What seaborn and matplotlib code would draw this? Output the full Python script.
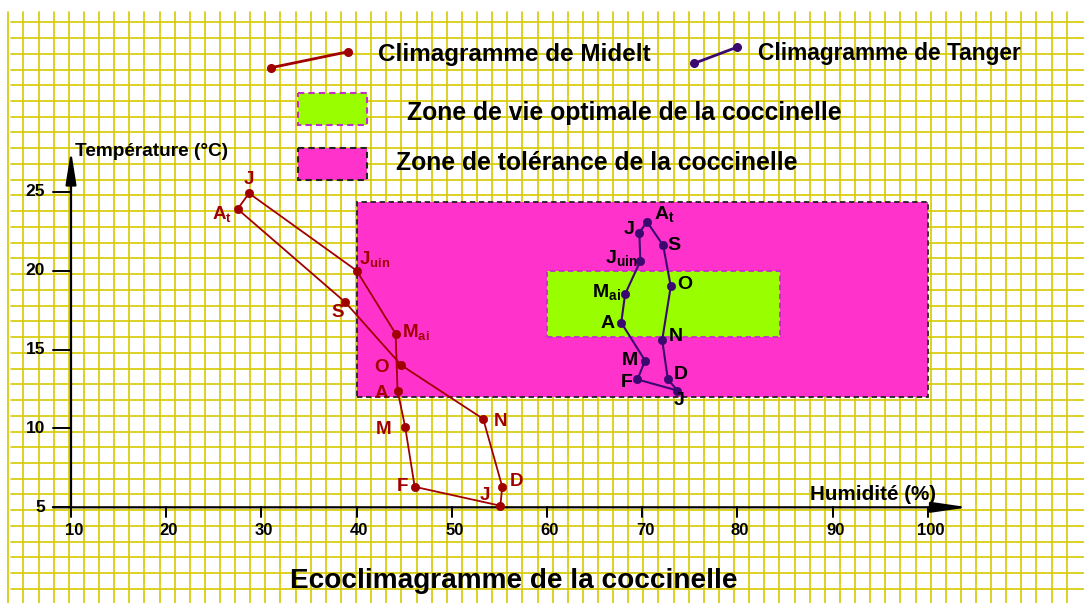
import matplotlib
matplotlib.use('Agg')
import matplotlib.pyplot as plt
import seaborn as sns
import pandas as pd
import numpy as np
from matplotlib.patches import Rectangle

sns.set_theme(style='white')
plt.rcParams['font.family'] = ['Liberation Sans', 'DejaVu Sans']
plt.rcParams['font.weight'] = 'bold'
plt.rcParams['text.color'] = 'black'
plt.rcParams['mathtext.fontset'] = 'custom'
plt.rcParams['mathtext.rm'] = 'Liberation Sans:bold'
plt.rcParams['mathtext.bf'] = 'Liberation Sans:bold'
plt.rcParams['mathtext.it'] = 'Liberation Sans:bold'

# ---------------- data ----------------
months = ['Jan', 'Fev', 'Mar', 'Avr', 'Mai', 'Juin', 'Juil', 'Aout', 'Sep', 'Oct', 'Nov', 'Dec']
month_labels = ['J', 'F', 'M', 'A', r'$\mathrm{M}_{\mathrm{ai}}$', r'$\mathrm{J}_{\mathrm{uin}}$',
                'J', r'$\mathrm{A}_{\mathrm{t}}$', 'S', 'O', 'N', 'D']
midelt_hum = [55.1, 46.1, 45.1, 44.3, 44.1, 40.0, 28.7, 27.5, 38.8, 44.7, 53.3, 55.3]
midelt_temp = [5.1, 6.3, 10.1, 12.4, 16.0, 20.0, 24.9, 23.9, 18.0, 14.0, 10.6, 6.3]
tanger_hum = [73.7, 69.5, 70.3, 67.8, 68.2, 69.8, 69.7, 70.5, 72.2, 73.0, 72.1, 72.7]
tanger_temp = [12.4, 13.1, 14.3, 16.7, 18.5, 20.6, 22.4, 23.1, 21.6, 19.0, 15.6, 13.1]

tolerance_hum = [40, 100]
tolerance_temp = [12, 24.35]
optimal_hum = [60, 84.5]
optimal_temp = [15.8, 20]

x_ticks = [10, 20, 30, 40, 50, 60, 70, 80, 90, 100]
y_ticks = [5, 10, 15, 20, 25]

title = 'Ecoclimagramme de la coccinelle'
x_label = 'Humidité (%)'
y_label = 'Température (°C)'
legend_midelt = 'Climagramme de Midelt'
legend_tanger = 'Climagramme de Tanger'
legend_optimal = 'Zone de vie optimale de la coccinelle'
legend_tolerance = 'Zone de tolérance de la coccinelle'

# label offsets (pixels: right, down)
midelt_offsets = [(-15, -10), (-12, 0), (-22, 3), (-16, 3), (20, -2), (18, -12),
                  (0, -14), (-16, 5), (-7, 10), (-20, 2), (17, 3), (14, -5)]
tanger_offsets = [(2, 10), (-11, 3), (-15, 0), (-14, 1), (-19, -2), (-19, -3),
                  (-10, -3), (17, -8), (11, 0), (14, -2), (14, -4), (13, -5)]

MIDELT = '#A00000'
TANGER = '#3A0870'
PINK = '#FF33CC'
GREEN = '#99FF00'
GRID = '#D6CA00'

W, H = 1084, 603
fig = plt.figure(figsize=(W / 100, H / 100), dpi=100)
renderer = fig.canvas.get_renderer()

# background (pixel coordinates)
bg = fig.add_axes([0, 0, 1, 1])
bg.set_xlim(0, W)
bg.set_ylim(H, 0)
bg.axis('off')

# graph paper
for x in np.arange(8.3, 1080, 15.12):
    bg.plot([x, x], [12, H], color=GRID, lw=1.2, zorder=0)
for y in np.arange(22.3, H, 15.74):
    bg.plot([11, W], [y, y], color=GRID, lw=1.2, zorder=0)

# data axes mapped onto the figure
px0, px_per = 71.0, 9.52      # x: pixel of 10 %, pixels per %
py0, py_per = 507.3, 15.78    # y: pixel of 5 °C, pixels per °C
ax = fig.add_axes([0, 0, 1, 1])
ax.patch.set_alpha(0)
ax.set_xlim(10 - px0 / px_per, 10 + (W - px0) / px_per)
ax.set_ylim(5 - (H - py0) / py_per, 5 + py0 / py_per)
ax.axis('off')

# zones
ax.add_patch(Rectangle((tolerance_hum[0], tolerance_temp[0]),
                       tolerance_hum[1] - tolerance_hum[0], tolerance_temp[1] - tolerance_temp[0],
                       facecolor=PINK, edgecolor='#222222', lw=1.3, ls=(0, (3, 2)), zorder=2))
ax.add_patch(Rectangle((optimal_hum[0], optimal_temp[0]),
                       optimal_hum[1] - optimal_hum[0], optimal_temp[1] - optimal_temp[0],
                       facecolor=GREEN, edgecolor='#C030C8', lw=1.3, ls=(0, (3, 2)), zorder=3))

# axes arrows
ax.annotate('', xy=(104.25, 5), xytext=(8.1, 5),
            arrowprops=dict(arrowstyle='-|>,head_length=1.1,head_width=0.16', lw=1.6,
                            color='black', mutation_scale=20, shrinkA=0, shrinkB=0), zorder=6)
ax.annotate('', xy=(10, 27.6), xytext=(10, 5),
            arrowprops=dict(arrowstyle='-|>,head_length=1.0,head_width=0.16', lw=1.6,
                            color='black', mutation_scale=20, shrinkA=0, shrinkB=0), zorder=6)
for xt in x_ticks:
    ax.plot([xt, xt], [5, 5 - 0.63], color='black', lw=1.4, zorder=6)
    ax.annotate(str(xt), (xt, 5), xytext=(2, -23 * 0.72), textcoords='offset points',
                ha='center', va='center', fontsize=12, fontweight='bold', color='black')
for yt in y_ticks:
    ax.plot([10 - 1.9, 10], [yt, yt], color='black', lw=1.4, zorder=6)
    ax.annotate(str(yt), (10, yt), xytext=(-26 * 0.72, 0), textcoords='offset points',
                ha='right', va='center', fontsize=12.5, fontweight='bold', color='black')


def fit_text(axx, x, y, s, width, size0=14, **kw):
    t = axx.text(x, y, s, fontsize=size0, ha='left', va='center', fontweight='bold',
                 color='black', **kw)
    w = t.get_window_extent(renderer).width
    t.set_fontsize(size0 * width / w)
    return t


fit_text(bg, 75, 152, y_label, 153, zorder=7)
fit_text(bg, 810, 495, x_label, 126, zorder=7)

# climagrammes
df_m = pd.DataFrame({'month': months, 'hum': midelt_hum, 'temp': midelt_temp})
df_t = pd.DataFrame({'month': months, 'hum': tanger_hum, 'temp': tanger_temp})
df_m_closed = pd.concat([df_m, df_m.iloc[[0]]], ignore_index=True)
df_t_closed = pd.concat([df_t, df_t.iloc[[0]]], ignore_index=True)

sns.lineplot(data=df_m_closed, x='hum', y='temp', sort=False, estimator=None,
             color=MIDELT, lw=1.3, ax=ax, zorder=8)
sns.scatterplot(data=df_m, x='hum', y='temp', color=MIDELT, s=36, edgecolor=MIDELT,
                ax=ax, zorder=9, legend=False)
sns.lineplot(data=df_t_closed, x='hum', y='temp', sort=False, estimator=None,
             color=TANGER, lw=1.5, ax=ax, zorder=8)
sns.scatterplot(data=df_t, x='hum', y='temp', color=TANGER, s=36, edgecolor=TANGER,
                ax=ax, zorder=9, legend=False)
ax.set_xlim(10 - px0 / px_per, 10 + (W - px0) / px_per)
ax.set_ylim(5 - (H - py0) / py_per, 5 + py0 / py_per)
ax.axis('off')

for lbl, hx, ty, (dx, dy) in zip(month_labels, midelt_hum, midelt_temp, midelt_offsets):
    ax.annotate(lbl, (hx, ty), xytext=(dx * 0.72, -dy * 0.72), textcoords='offset points',
                ha='center', va='center', fontsize=13.5, fontweight='bold', color=MIDELT, zorder=10)
for lbl, hx, ty, (dx, dy) in zip(month_labels, tanger_hum, tanger_temp, tanger_offsets):
    ax.annotate(lbl, (hx, ty), xytext=(dx * 0.72, -dy * 0.72), textcoords='offset points',
                ha='center', va='center', fontsize=14, fontweight='bold', color='black', zorder=10)

# legend (pixel coordinates)
bg.plot([271, 348.3], [67.7, 51.7], color=MIDELT, lw=2, marker='o', ms=5.5, zorder=5)
fit_text(bg, 378, 55, legend_midelt, 272, zorder=5)
bg.plot([694.3, 736.7], [63.3, 47.3], color=TANGER, lw=2, marker='o', ms=5.5, zorder=5)
fit_text(bg, 758, 53.3, legend_tanger, 265, zorder=5)
bg.add_patch(Rectangle((297.7, 93.3), 69.6, 31.7, facecolor=GREEN, edgecolor='#C030C8',
                       lw=1.5, ls=(0, (3, 2)), zorder=5))
fit_text(bg, 407, 113, legend_optimal, 434, zorder=5)
bg.add_patch(Rectangle((298.3, 147.7), 69, 32.3, facecolor=PINK, edgecolor='#222222',
                       lw=1.5, ls=(0, (3, 2)), zorder=5))
fit_text(bg, 396, 163, legend_tolerance, 402, zorder=5)

fit_text(bg, 290, 581, title, 448, zorder=5)

fig.savefig('out.png', dpi=100)
